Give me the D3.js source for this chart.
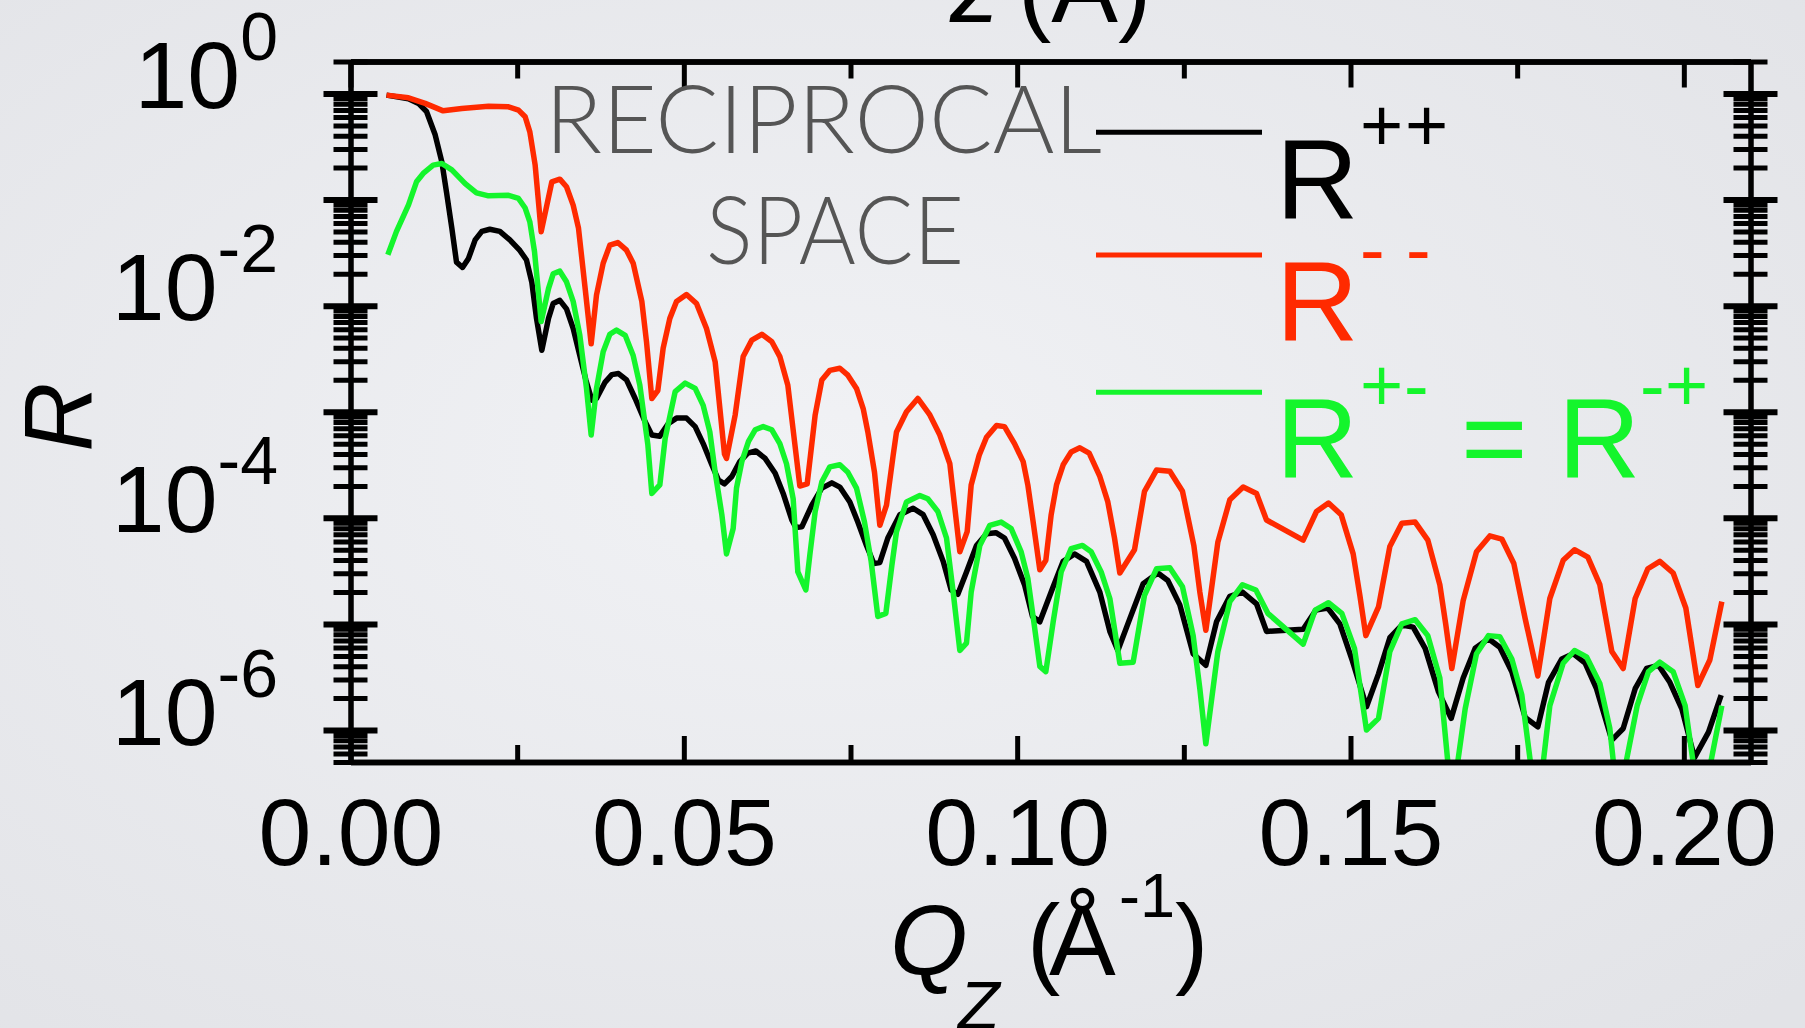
<!DOCTYPE html>
<html>
<head>
<meta charset="utf-8">
<script src="https://cdn.jsdelivr.net/npm/d3@7"></script>
<style>
  html, body { margin: 0; padding: 0; overflow: hidden; }
  svg { display: block; }
</style>
</head>
<body>
<script>
// Polarised neutron reflectivity, reciprocal space: R++, R-- and R+- (= R-+) vs Qz.
// Values are log10(R) at the listed Qz (1/Å).

const qPP = [0.0054,0.0087,0.0102,0.0114,0.0127,0.0137,0.0144,0.0152,0.0159,0.0168,0.0177,0.0187,0.0197,0.0209,0.0224,0.0239,0.0254,0.0264,0.0272,0.0279,0.0287,0.0297,0.0304,0.0314,0.0324,0.0334,0.0344,0.0353,0.0362,0.0369,0.0382,0.0392,0.0402,0.0414,0.0427,0.0442,0.0452,0.0464,0.0477,0.0489,0.0504,0.0517,0.0529,0.0542,0.0552,0.0561,0.0572,0.0584,0.0596,0.0608,0.0622,0.0637,0.0649,0.0662,0.0668,0.0677,0.0692,0.0707,0.0722,0.0734,0.0749,0.0761,0.0774,0.0785,0.0794,0.0806,0.0824,0.0844,0.0859,0.0874,0.0889,0.0901,0.0911,0.0924,0.0939,0.0954,0.0968,0.0981,0.0996,0.1011,0.1023,0.1034,0.1054,0.1069,0.1086,0.1104,0.1124,0.1139,0.1151,0.1169,0.1189,0.1211,0.1226,0.1244,0.1264,0.1283,0.1299,0.1319,0.1338,0.1359,0.1374,0.1429,0.1448,0.1466,0.1484,0.1503,0.1524,0.1542,0.1559,0.1577,0.1594,0.1612,0.1632,0.1651,0.1669,0.1687,0.1707,0.1724,0.1742,0.1762,0.1781,0.1797,0.1817,0.1834,0.1852,0.1869,0.1892,0.1909,0.1927,0.1944,0.1962,0.1979,0.1997,0.2016,0.2037,0.2056];
const logPP = [-0.016,-0.05,-0.094,-0.17,-0.39,-0.645,-0.93,-1.27,-1.59,-1.64,-1.555,-1.38,-1.30,-1.28,-1.30,-1.38,-1.48,-1.57,-1.78,-2.12,-2.42,-2.12,-1.98,-1.95,-2.03,-2.215,-2.47,-2.70,-2.89,-2.875,-2.72,-2.65,-2.64,-2.70,-2.875,-3.095,-3.22,-3.23,-3.11,-3.06,-3.06,-3.14,-3.30,-3.50,-3.645,-3.68,-3.61,-3.47,-3.39,-3.37,-3.44,-3.58,-3.77,-4.02,-4.09,-4.085,-3.88,-3.72,-3.67,-3.71,-3.85,-4.04,-4.26,-4.43,-4.42,-4.19,-3.97,-3.91,-3.97,-4.16,-4.41,-4.68,-4.72,-4.51,-4.26,-4.15,-4.14,-4.19,-4.38,-4.63,-4.93,-4.98,-4.65,-4.41,-4.34,-4.41,-4.70,-5.07,-5.25,-4.95,-4.62,-4.52,-4.59,-4.82,-5.28,-5.39,-4.98,-4.74,-4.70,-4.81,-5.07,-5.05,-4.87,-4.85,-5.00,-5.35,-5.78,-5.47,-5.13,-5.01,-5.03,-5.23,-5.64,-5.89,-5.51,-5.23,-5.14,-5.22,-5.45,-5.88,-5.97,-5.55,-5.33,-5.28,-5.37,-5.61,-6.095,-5.985,-5.61,-5.42,-5.39,-5.55,-5.80,-6.26,-6.02,-5.67];

const qMM = [0.0054,0.0087,0.0112,0.0139,0.0167,0.0207,0.0237,0.0252,0.0262,0.0269,0.0277,0.0286,0.0302,0.0314,0.0324,0.0334,0.0342,0.0352,0.0361,0.0369,0.0379,0.0389,0.0401,0.0414,0.0424,0.0437,0.0444,0.0452,0.0461,0.0469,0.0479,0.0489,0.0504,0.0519,0.0534,0.0547,0.0561,0.0564,0.0577,0.0589,0.0602,0.0617,0.0632,0.0644,0.0656,0.0674,0.0685,0.0697,0.0707,0.0719,0.0734,0.0746,0.0759,0.0769,0.0776,0.0786,0.0794,0.0804,0.0814,0.0819,0.0834,0.0851,0.0869,0.0884,0.0899,0.0906,0.0914,0.0925,0.0931,0.0943,0.0954,0.0969,0.0981,0.0996,0.1009,0.1016,0.1024,0.1034,0.1043,0.1051,0.1059,0.1069,0.1081,0.1094,0.1108,0.1124,0.1136,0.1146,0.1154,0.1176,0.1191,0.1209,0.1229,0.1248,0.1265,0.1274,0.1283,0.1301,0.1319,0.1339,0.1359,0.1374,0.1429,0.1449,0.1467,0.1486,0.1504,0.1514,0.1523,0.1542,0.1559,0.1577,0.1597,0.1616,0.1634,0.1643,0.1652,0.1669,0.1689,0.1709,0.1727,0.1745,0.1762,0.1781,0.1799,0.1819,0.1836,0.1856,0.1874,0.1892,0.1909,0.1927,0.1946,0.1964,0.1984,0.2003,0.2021,0.2039,0.2057];
const logMM = [-0.016,-0.041,-0.094,-0.164,-0.141,-0.120,-0.126,-0.157,-0.22,-0.362,-0.676,-1.304,-0.833,-0.808,-0.88,-1.053,-1.27,-1.84,-2.36,-1.90,-1.60,-1.43,-1.405,-1.477,-1.60,-1.96,-2.34,-2.875,-2.80,-2.40,-2.12,-1.96,-1.895,-1.98,-2.215,-2.53,-3.40,-3.44,-3.03,-2.48,-2.325,-2.27,-2.34,-2.48,-2.75,-3.70,-3.68,-3.03,-2.70,-2.61,-2.59,-2.655,-2.78,-2.97,-3.19,-3.57,-4.07,-3.88,-3.41,-3.19,-3.00,-2.875,-3.03,-3.22,-3.49,-3.88,-4.32,-4.13,-3.69,-3.41,-3.24,-3.13,-3.14,-3.30,-3.47,-3.69,-4.04,-4.49,-4.40,-3.97,-3.69,-3.50,-3.38,-3.34,-3.39,-3.61,-3.85,-4.19,-4.52,-4.30,-3.75,-3.55,-3.56,-3.75,-4.26,-4.70,-5.06,-4.23,-3.83,-3.71,-3.77,-4.02,-4.21,-3.94,-3.86,-3.97,-4.34,-4.73,-5.11,-4.84,-4.27,-4.05,-4.04,-4.21,-4.63,-5.01,-5.42,-4.78,-4.32,-4.17,-4.20,-4.43,-4.95,-5.49,-4.76,-4.40,-4.30,-4.37,-4.63,-5.26,-5.42,-4.76,-4.48,-4.41,-4.52,-4.85,-5.58,-5.34,-4.79];

const qPM = [0.0056,0.0069,0.0087,0.0099,0.0109,0.0124,0.0137,0.0152,0.0172,0.0189,0.0207,0.0237,0.0252,0.0262,0.0269,0.0276,0.0286,0.0297,0.0304,0.0314,0.0324,0.0334,0.0344,0.0354,0.0361,0.0369,0.0379,0.0389,0.0399,0.0412,0.0424,0.0434,0.0446,0.0452,0.0464,0.0472,0.0487,0.0502,0.0517,0.0529,0.0539,0.0547,0.0557,0.0564,0.0574,0.0579,0.0587,0.0597,0.0607,0.0619,0.0632,0.0644,0.0654,0.0664,0.0671,0.0683,0.0689,0.0697,0.0707,0.0719,0.0734,0.0746,0.0759,0.0771,0.0781,0.0791,0.0803,0.0812,0.0819,0.0834,0.0854,0.0866,0.0881,0.0894,0.0904,0.0914,0.0924,0.0931,0.0944,0.0959,0.0976,0.0991,0.1006,0.1016,0.1025,0.1034,0.1043,0.1054,0.1066,0.1081,0.1098,0.1111,0.1126,0.1139,0.1154,0.1174,0.1191,0.1209,0.1229,0.1248,0.1264,0.1274,0.1283,0.1301,0.1319,0.1338,0.1358,0.1376,0.1429,0.1447,0.1467,0.1487,0.1506,0.1524,0.1542,0.1559,0.1577,0.1597,0.1616,0.1634,0.1652,0.1672,0.1689,0.1707,0.1724,0.1742,0.1757,0.1780,0.1799,0.1819,0.1836,0.1854,0.1874,0.1889,0.1901,0.1930,0.1947,0.1964,0.1984,0.2002,0.2025,0.2057];
const logPM = [-1.52,-1.30,-1.05,-0.833,-0.754,-0.676,-0.66,-0.72,-0.85,-0.937,-0.965,-0.96,-0.99,-1.08,-1.21,-1.49,-2.15,-1.84,-1.70,-1.675,-1.775,-1.96,-2.28,-2.78,-3.22,-2.78,-2.435,-2.27,-2.23,-2.28,-2.47,-2.75,-3.31,-3.77,-3.69,-3.25,-2.81,-2.73,-2.78,-2.94,-3.19,-3.57,-3.97,-4.34,-4.10,-3.72,-3.47,-3.28,-3.17,-3.14,-3.17,-3.30,-3.49,-3.82,-4.51,-4.68,-4.35,-3.94,-3.66,-3.52,-3.50,-3.57,-3.72,-4.04,-4.41,-4.93,-4.90,-4.45,-4.13,-3.85,-3.79,-3.82,-3.94,-4.19,-4.70,-5.25,-5.18,-4.70,-4.26,-4.07,-4.04,-4.10,-4.32,-4.57,-4.98,-5.40,-5.45,-4.98,-4.51,-4.29,-4.26,-4.32,-4.51,-4.76,-5.37,-5.36,-4.73,-4.48,-4.47,-4.65,-5.11,-5.61,-6.13,-5.26,-4.79,-4.63,-4.68,-4.90,-5.19,-4.87,-4.80,-4.90,-5.23,-6.00,-5.89,-5.26,-5.00,-4.96,-5.11,-5.51,-6.70,-5.80,-5.28,-5.11,-5.12,-5.33,-5.67,-6.80,-5.77,-5.37,-5.25,-5.31,-5.56,-5.985,-6.70,-5.77,-5.45,-5.36,-5.45,-5.77,-6.80,-5.77];

const xTicksMajor = [0, 0.05, 0.10, 0.15, 0.20];
const xTicksMinor = [0.025, 0.075, 0.125, 0.175];
const yLabelExponents = [0, -2, -4, -6];

const series = [
  { key: "pp", q: qPP, logR: logPP, color: "#000000" },
  { key: "mm", q: qMM, logR: logMM, color: "#ff2a00" },
  { key: "pm", q: qPM, logR: logPM, color: "#14f52c" }
];

const W = 1805, H = 1028;
const FONT = "'Liberation Sans', Arial, Helvetica, sans-serif";

const svg = d3.select("body").append("svg")
  .attr("width", W).attr("height", H)
  .attr("viewBox", `0 0 ${W} ${H}`);

// slide background
const defs = svg.append("defs");
const bg = defs.append("radialGradient").attr("id", "bg")
  .attr("cx", "45%").attr("cy", "45%").attr("r", "75%");
bg.append("stop").attr("offset", "0%").attr("stop-color", "#f1f2f5");
bg.append("stop").attr("offset", "100%").attr("stop-color", "#e2e3e7");
svg.append("rect").attr("width", W).attr("height", H).attr("fill", "url(#bg)");

const x = d3.scaleLinear().domain([0, 0.21]).range([350.5, 1750.5]);
const y = d3.scaleLog().domain([5e-7, 2]).range([762, 61.5]);

defs.append("clipPath").attr("id", "plot")
  .append("rect")
  .attr("x", x(0)).attr("y", y(2))
  .attr("width", x(0.21) - x(0)).attr("height", y(5e-7) - y(2));

// partial axis title of the panel above
const panelTitle = svg.append("text")
  .attr("font-family", FONT).attr("font-size", 100).attr("fill", "#000")
  .attr("y", 22);
panelTitle.append("tspan").attr("x", 950).attr("font-style", "italic").text("z");
panelTitle.append("tspan").attr("x", 1018).text("(Å)");

// curves
const line = d3.line()
  .x(d => x(d.q))
  .y(d => y(d.r));

const curves = svg.append("g").attr("clip-path", "url(#plot)");
series.forEach(s => {
  const n = Math.min(s.q.length, s.logR.length);
  const pts = d3.range(n).map(i => ({ q: s.q[i], r: Math.pow(10, s.logR[i]) }));
  curves.append("path")
    .datum(pts)
    .attr("fill", "none")
    .attr("stroke", s.color)
    .attr("stroke-width", 5.5)
    .attr("stroke-linejoin", "round")
    .attr("stroke-linecap", "butt")
    .attr("d", line);
});

// axes
const AX = 5.5;
function styleAxis(g) {
  g.select(".domain").attr("stroke", "#000").attr("stroke-width", AX);
  g.selectAll(".tick line").attr("stroke", "#000").attr("stroke-width", 5);
}

// bottom: major with labels, minor without
const xMajBottom = svg.append("g")
  .attr("transform", `translate(0,${y(5e-7)})`)
  .call(d3.axisBottom(x).tickValues(xTicksMajor).tickFormat(d3.format(".2f"))
    .tickSizeInner(-26).tickSizeOuter(0).tickPadding(36));
styleAxis(xMajBottom);
xMajBottom.selectAll(".tick text")
  .attr("font-family", FONT).attr("font-size", 95).attr("fill", "#000");

const xMinBottom = svg.append("g")
  .attr("transform", `translate(0,${y(5e-7)})`)
  .call(d3.axisBottom(x).tickValues(xTicksMinor).tickFormat("")
    .tickSizeInner(-17).tickSizeOuter(0));
styleAxis(xMinBottom);

// top
const xMajTop = svg.append("g")
  .attr("transform", `translate(0,${y(2)})`)
  .call(d3.axisTop(x).tickValues(xTicksMajor).tickFormat("")
    .tickSizeInner(-26).tickSizeOuter(0));
styleAxis(xMajTop);
const xMinTop = svg.append("g")
  .attr("transform", `translate(0,${y(2)})`)
  .call(d3.axisTop(x).tickValues(xTicksMinor).tickFormat("")
    .tickSizeInner(-17).tickSizeOuter(0));
styleAxis(xMinTop);

// left and right log axes with ticks crossing the axis line
const yTicks = y.ticks();
const isDecade = t => Math.abs(Math.log10(t) - Math.round(Math.log10(t))) < 1e-6;
[x(0), x(0.21)].forEach(px => {
  const g = svg.append("g")
    .attr("transform", `translate(${px},0)`)
    .call(d3.axisLeft(y).tickValues(yTicks).tickFormat("").tickSizeOuter(0));
  g.select(".domain").attr("stroke", "#000").attr("stroke-width", AX);
  g.selectAll(".tick line")
    .attr("stroke", "#000")
    .attr("x1", d => isDecade(d) ? -27 : -17)
    .attr("x2", d => isDecade(d) ? 27 : 17)
    .attr("stroke-width", d => isDecade(d) ? 6 : 5);
});

// y tick labels 10^n
yLabelExponents.forEach(e => {
  const t = svg.append("text")
    .attr("font-family", FONT).attr("font-size", 95).attr("fill", "#000")
    .attr("text-anchor", "end")
    .attr("x", 278).attr("y", y(Math.pow(10, e)) + 14.5);
  t.append("tspan").text("10");
  t.append("tspan").attr("font-size", 68).attr("dy", -48).text(String(e));
});

// axis titles
svg.append("text")
  .attr("font-family", FONT).attr("font-size", 96).attr("font-style", "italic")
  .attr("fill", "#000").attr("text-anchor", "middle")
  .attr("transform", "translate(92,417) rotate(-90)")
  .text("R");

const xt = svg.append("text")
  .attr("font-family", FONT).attr("font-size", 100).attr("fill", "#000");
xt.append("tspan").attr("x", 890).attr("y", 975).attr("font-style", "italic").text("Q");
xt.append("tspan").attr("x", 958).attr("y", 1029).attr("font-size", 68).attr("font-style", "italic").text("Z");
xt.append("tspan").attr("x", 1027).attr("y", 975).text("(");
xt.append("tspan").attr("x", 1049).attr("y", 975).text("Å");
xt.append("tspan").attr("x", 1119).attr("y", 917).attr("font-size", 63).text("-1");
xt.append("tspan").attr("x", 1175).attr("y", 975).text(")");

// panel caption
const cap = svg.append("g")
  .attr("font-family", "Lato, 'Open Sans', sans-serif")
  .attr("font-weight", 300).attr("font-size", 94).attr("fill", "#555555");
cap.append("text").attr("x", 545).attr("y", 152.7)
  .attr("textLength", 557).attr("lengthAdjust", "spacingAndGlyphs").text("RECIPROCAL");
cap.append("text").attr("x", 706).attr("y", 264.3)
  .attr("textLength", 258).attr("lengthAdjust", "spacingAndGlyphs").text("SPACE");

// legend
const legendY = { pp: 132.3, mm: 255, pm: 392.3 };
series.forEach(s => {
  svg.append("line")
    .attr("x1", 1096).attr("x2", 1262)
    .attr("y1", legendY[s.key]).attr("y2", legendY[s.key])
    .attr("stroke", s.color).attr("stroke-width", 5);
});

function legendText(color, parts) {
  const t = svg.append("text").attr("font-family", FONT).attr("fill", color);
  parts.forEach(p => {
    t.append("tspan").attr("x", p[0]).attr("y", p[1]).attr("font-size", p[2]).text(p[3]);
  });
}
legendText("#000000", [[1276, 218.3, 114, "R"], [1360, 151, 74, "+"], [1405, 151, 74, "+"]]);
legendText("#ff2a00", [[1276, 340, 114, "R"], [1360, 274.5, 74, "-"], [1406, 274.5, 74, "-"]]);
legendText("#14f52c", [[1276, 477, 114, "R"], [1360, 410.5, 74, "+"], [1404, 411, 74, "-"],
  [1461, 477, 114, "="], [1558, 477, 114, "R"], [1640, 411, 74, "-"], [1665, 410.5, 74, "+"]]);
</script>
</body>
</html>
